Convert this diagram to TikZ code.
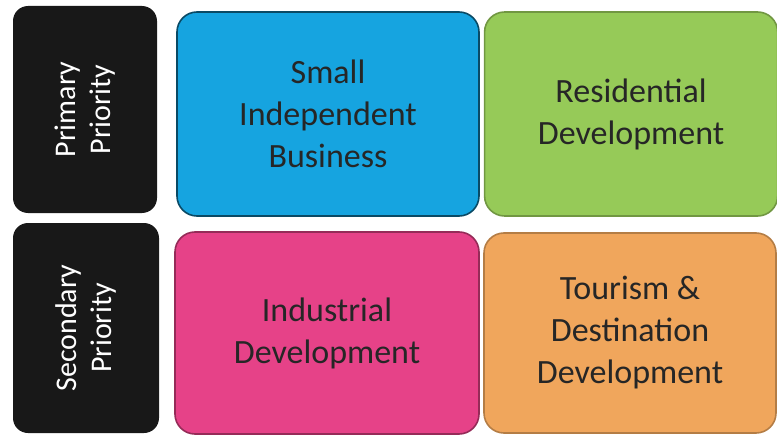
\documentclass[tikz,border=0pt]{standalone}
\usepackage{fontspec}
\setmainfont{Carlito}
\usepackage{tikz}
\usetikzlibrary{positioning}
\definecolor{prioblack}{RGB}{24,24,24}
\definecolor{smallblue}{RGB}{22,164,224}
\definecolor{resgreen}{RGB}{150,202,88}
\definecolor{indpink}{RGB}{230,66,136}
\definecolor{tourorange}{RGB}{240,166,92}
\tikzset{
	prio/.style  = {shape=rectangle, rounded corners=15pt, fill=prioblack,
		text=white, align=center, font=\fontsize{30}{35}\selectfont,
		rotate=90, inner sep=0pt},
	cell/.style  = {shape=rectangle, rounded corners=20pt, draw,
		line width=1.6pt, align=center, text=black!85,
		font=\fontsize{34}{42}\selectfont, inner sep=0pt}
}
\begin{document}
\begin{tikzpicture}
	\useasboundingbox (0pt,0pt) rectangle (777pt,-436pt);
	% priority labels
	\node [prio, minimum width=207pt, minimum height=144pt] (prim) at (85pt,-109.5pt)
		{Primary\\Priority};
	\node [prio, minimum width=210pt, minimum height=146pt] (sec) at (86pt,-328pt)
		{Secondary\\Priority};
	% top row
	\node [cell, fill=smallblue, draw=smallblue!45!black,
		minimum width=302pt, minimum height=204pt] (small) at (328pt,-114pt)
		{Small\\Independent\\Business};
	\node [cell, fill=resgreen, draw=resgreen!75!black,
		minimum width=293pt, minimum height=204pt, right=4pt of small] (res)
		{Residential\\Development};
	% bottom row
	\node [cell, fill=indpink, draw=indpink!65!black,
		minimum width=304pt, minimum height=202pt] (ind) at (327pt,-333pt)
		{Industrial\\Development};
	\node [cell, fill=tourorange, draw=tourorange!75!black,
		minimum width=292pt, minimum height=200pt] (tour) at (630pt,-333pt)
		{Tourism \&\\Destination\\Development};
\end{tikzpicture}
\end{document}
